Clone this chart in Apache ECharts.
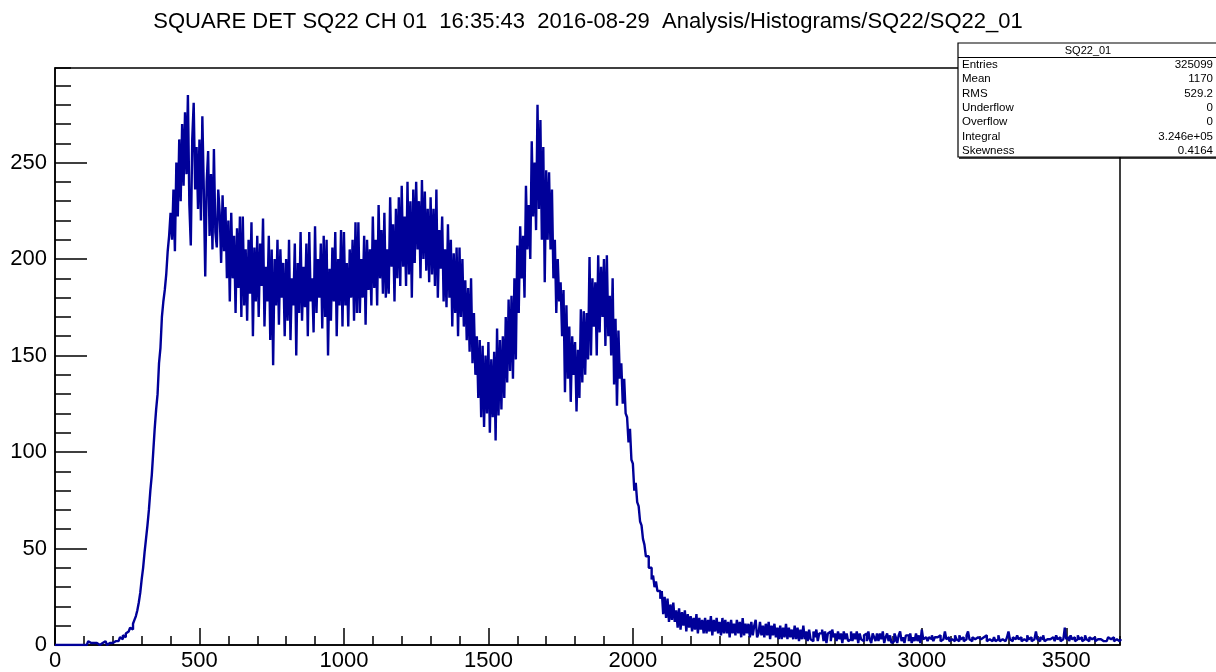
<!DOCTYPE html>
<html><head><meta charset="utf-8">
<script src="https://cdn.jsdelivr.net/npm/echarts@6/dist/echarts.min.js"></script>
<style>html,body{margin:0;padding:0;background:#fff}#c{width:1216px;height:672px}</style>
</head><body><div id="c"></div>
<script>
const titleText = 'SQUARE DET SQ22 CH 01  16:35:43  2016-08-29  Analysis/Histograms/SQ22/SQ22_01';
const binStart = 0;
const binWidth = 5;
const xMin = 0, xMax = 3686;
const yMin = 0, yMax = 299;
const counts = [
  0,0,0,0,0,0,0,0,0,0,
  0,0,0,0,0,0,0,0,1,0,
  1,0,0,2,1,0,1,0,1,2,
  0,1,1,0,2,1,0,1,2,1,
  1,2,3,2,2,4,3,5,4,6,
  7,6,9,8,11,13,15,18,22,27,
  34,40,48,55,62,70,80,88,100,112,
  122,130,146,154,170,178,184,192,204,212,
  224,210,236,204,250,222,262,230,270,238,
  276,244,285,228,207,262,281,236,258,226,
  262,220,274,236,191,240,256,212,244,205,
  257,214,206,236,224,198,233,204,227,190,
  220,178,224,190,212,172,216,185,222,170,
  222,176,205,168,210,182,219,160,206,178,
  212,170,208,186,221,165,196,178,212,158,
  205,145,200,176,210,166,205,180,198,160,
  200,168,210,158,190,176,208,150,198,172,
  214,168,196,175,208,160,214,178,190,162,
  217,172,200,180,208,164,212,170,210,150,
  195,168,206,178,214,160,200,176,215,165,
  214,176,198,165,205,180,210,168,219,172,
  219,172,200,180,212,166,210,184,205,176,
  222,185,210,176,228,190,215,182,224,180,
  205,182,232,196,218,178,226,190,232,186,
  238,196,222,186,240,192,230,180,236,198,
  240,205,230,190,241,200,235,194,226,188,
  232,192,226,186,236,180,215,195,222,178,
  205,175,218,180,210,165,203,172,206,160,
  206,170,200,165,189,158,185,152,190,146,
  172,140,160,128,158,118,155,113,150,120,
  157,110,148,118,152,106,164,119,158,122,
  160,128,170,136,179,142,181,138,190,148,
  207,172,217,190,212,180,238,205,228,200,
  261,222,250,215,280,226,272,210,258,188,
  246,210,245,205,236,190,210,172,200,178,
  188,160,184,131,176,138,165,126,160,140,
  157,121,153,128,174,136,173,140,172,148,
  201,150,190,165,188,150,202,162,196,170,
  200,155,202,160,181,150,190,135,169,124,
  163,138,146,125,138,120,118,105,112,96,
  94,80,84,74,72,64,62,55,52,46,
  46,40,40,34,36,30,33,28,28,24,
  28,16,25,14,24,12,21,13,22,12,
  18,9,19,8,17,10,18,7,16,9,
  15,7,14,8,16,6,14,8,13,6,
  14,6,13,7,15,5,13,7,14,6,
  12,5,14,6,13,6,12,4,13,6,
  11,5,13,6,12,4,14,5,11,6,
  11,4,12,5,10,13,4,6,12,5,
  10,4,11,5,12,3,10,5,11,4,
  9,3,10,3,9,4,11,3,9,4,
  8,3,10,3,9,2,8,3,10,3,
  7,2,8,3,2,7,4,8,2,6,
  6,8,2,7,1,6,7,2,8,4,
  6,2,7,3,6,1,7,3,6,2,
  3,7,2,6,3,7,1,6,3,2,
  5,6,2,7,3,1,6,4,2,6,
  2,6,3,7,1,4,6,2,5,1,
  2,6,4,1,5,7,2,4,1,5,
  5,2,6,1,4,2,6,2,5,1,
  8,3,4,5,2,4,3,5,2,4,
  4,3,5,2,3,4,7,3,4,2,
  3,4,2,5,3,2,5,3,4,2,
  3,5,7,3,2,4,3,2,4,3,
  3,2,4,3,5,2,3,4,2,3,
  4,2,3,5,2,3,4,2,3,4,
  7,3,2,4,3,2,5,3,4,2,
  3,4,2,5,3,4,2,3,4,7,
  3,2,4,3,5,2,3,4,3,2,
  4,3,2,5,3,4,2,3,4,9,
  3,4,2,5,3,4,2,3,5,3,
  4,2,3,5,3,2,4,3,2,4,
  2,3,4,3,4,2,3,2,3,4,
  3,2,4,2,3,4,2,3
];
const xMajor = 500, xMinor = 100;
const yMajor = 50, yMinor = 10;
const statsName = 'SQ22_01';
const statsLabels = ['Entries','Mean','RMS','Underflow','Overflow','Integral','Skewness'];
const statsValues = ['325099','1170','529.2','0','0','3.246e+05','0.4164'];

const FONT = '"Liberation Sans", Arial, sans-serif';
const stepData = counts.map((c, i) => [binStart + i * binWidth, c]);
stepData.push([binStart + counts.length * binWidth, counts[counts.length - 1]]);

const chart = echarts.init(document.getElementById('c'), null, {renderer: 'canvas'});

const G = {left: 55, top: 68, width: 1065, height: 579};
const statsGraphics = [];
const bx = 958, by = 43, bw = 262, bh = 114;
statsGraphics.push({type: 'rect', shape: {x: bx, y: by, width: bw, height: bh}, style: {fill: '#fff', stroke: '#000', lineWidth: 1.2}, z: 100});
statsGraphics.push({type: 'line', shape: {x1: bx + 1, y1: by + bh + 1, x2: bx + bw, y2: by + bh + 1}, style: {stroke: '#000', lineWidth: 1.5}, z: 100});
statsGraphics.push({type: 'line', shape: {x1: bx, y1: by + 14.5, x2: bx + bw, y2: by + 14.5}, style: {stroke: '#000', lineWidth: 1}, z: 100});
statsGraphics.push({type: 'text', x: bx + 130, y: by + 8, style: {text: statsName, fill: '#000', font: '11px ' + FONT, textAlign: 'center', textVerticalAlign: 'middle'}, z: 101});
statsLabels.forEach((lab, i) => {
  const yy = by + 22 + i * 14.3;
  statsGraphics.push({type: 'text', x: bx + 4, y: yy, style: {text: lab, fill: '#000', font: '11.5px ' + FONT, textAlign: 'left', textVerticalAlign: 'middle'}, z: 101});
  statsGraphics.push({type: 'text', x: 1213, y: yy, style: {text: statsValues[i], fill: '#000', font: '11.5px ' + FONT, textAlign: 'right', textVerticalAlign: 'middle'}, z: 101});
});

const option = {
  animation: false,
  backgroundColor: '#fff',
  grid: {left: G.left, top: G.top, width: G.width, height: G.height, show: true, borderColor: '#000', borderWidth: 1.5, backgroundColor: 'transparent'},
  xAxis: [
    {type: 'value', min: xMin, max: xMax, interval: xMajor, position: 'bottom',
     axisLine: {show: true, onZero: false, lineStyle: {color: '#000', width: 1.5}},
     axisTick: {show: true, inside: true, length: 17, lineStyle: {color: '#000', width: 1.5}},
     axisLabel: {show: true, margin: 5, color: '#000', fontSize: 22, fontFamily: FONT, showMaxLabel: false,
       formatter: v => (v % xMajor === 0 ? String(v) : '')},
     splitLine: {show: false}},
    {type: 'value', min: xMin, max: xMax, interval: xMinor, position: 'bottom', offset: 0,
     axisLine: {show: false, onZero: false},
     axisTick: {show: true, inside: true, length: 9, lineStyle: {color: '#000', width: 1.5}},
     axisLabel: {show: false}, splitLine: {show: false}}
  ],
  yAxis: [
    {type: 'value', min: yMin, max: yMax, interval: yMajor, position: 'left',
     axisLine: {show: true, onZero: false, lineStyle: {color: '#000', width: 1.5}},
     axisTick: {show: true, inside: true, length: 32, lineStyle: {color: '#000', width: 1.5}},
     axisLabel: {show: true, margin: 8, color: '#000', fontSize: 22, fontFamily: FONT, showMaxLabel: false,
       formatter: v => (v % yMajor === 0 ? String(v) : '')},
     splitLine: {show: false}},
    {type: 'value', min: yMin, max: yMax, interval: yMinor, position: 'left', offset: 0,
     axisLine: {show: false, onZero: false},
     axisTick: {show: true, inside: true, length: 16, lineStyle: {color: '#000', width: 1.5}},
     axisLabel: {show: false}, splitLine: {show: false}}
  ],
  series: [{
    type: 'line', step: 'end', xAxisIndex: 0, yAxisIndex: 0, data: stepData,
    symbol: 'none', showSymbol: false, clip: true,
    lineStyle: {color: '#000099', width: 2.4}, z: 3
  }],
  graphic: [
    {type: 'text', x: 588, y: 22, style: {text: titleText, fill: '#000', font: '22px ' + FONT, textAlign: 'center', textVerticalAlign: 'middle'}, z: 100}
  ].concat(statsGraphics)
};
chart.setOption(option);
</script></body></html>
